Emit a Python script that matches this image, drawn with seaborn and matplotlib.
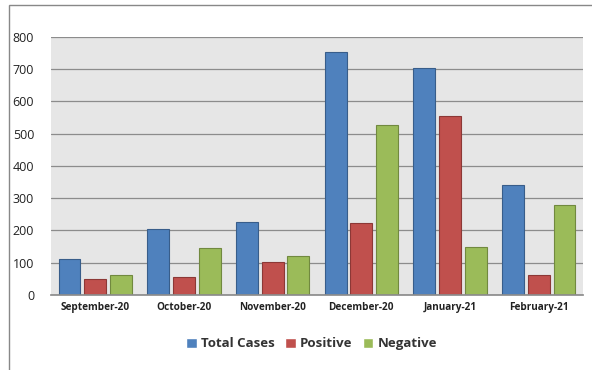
import pandas as pd
import matplotlib.pyplot as plt
import seaborn as sns
from matplotlib.patches import Rectangle

months = ["September-20", "October-20", "November-20", "December-20", "January-21", "February-21"]
total_cases = [112, 204, 225, 752, 705, 342]
positive = [49, 56, 102, 222, 555, 62]
negative = [62, 144, 122, 528, 150, 278]

series = ["Total Cases", "Positive", "Negative"]
colors = ["#4F81BD", "#C0504D", "#9BBB59"]
edges = ["#385D8A", "#8C3836", "#71893F"]

df = pd.DataFrame({"Month": months, "Total Cases": total_cases,
                   "Positive": positive, "Negative": negative})
long_df = df.melt(id_vars="Month", var_name="Series", value_name="Count")

sns.set_theme(style="white")
plt.rcParams["font.family"] = ["Open Sans", "DejaVu Sans"]

fig = plt.figure(figsize=(5.92, 3.70), dpi=100)
ax = fig.add_axes([0.086, 0.203, 0.899, 0.697])

sns.barplot(data=long_df, x="Month", y="Count", hue="Series", hue_order=series,
            palette=colors, saturation=1, width=0.87, gap=0.15, ax=ax, legend=True)

# darker outlines like the Excel bars
for container, ec in zip(ax.containers, edges):
    for bar in container:
        bar.set_edgecolor(ec)
        bar.set_linewidth(0.8)

ax.set_facecolor("#E6E6E6")
ax.set_ylim(0, 800)
ax.set_yticks(range(0, 801, 100))
ax.yaxis.grid(True, color="#8C8C8C", linewidth=0.9)
ax.set_axisbelow(True)
for side in ["top", "right", "left"]:
    ax.spines[side].set_visible(False)
ax.spines["bottom"].set_color("#8C8C8C")
ax.set_xlabel("")
ax.set_ylabel("")
ax.tick_params(axis="y", labelsize=9, colors="#222222", length=0, pad=12)
ax.tick_params(axis="x", labelsize=7.2, colors="#222222", length=0, pad=5)
for lbl in ax.get_xticklabels():
    lbl.set_fontweight("bold")

leg = ax.legend(loc="center", bbox_to_anchor=(0.49, -0.19), ncol=3, frameon=False,
                fontsize=9.5, handlelength=0.8, handleheight=0.8,
                handletextpad=0.3, columnspacing=0.8)
for t in leg.get_texts():
    t.set_fontweight("bold")
    t.set_color("#333333")

fig.patches.append(Rectangle((9 / 592, -0.05), 1.0, 1 - 5 / 370 + 0.05,
                             transform=fig.transFigure, fill=False,
                             edgecolor="#888888", linewidth=1.0))

fig.savefig("out.png", dpi=100)
